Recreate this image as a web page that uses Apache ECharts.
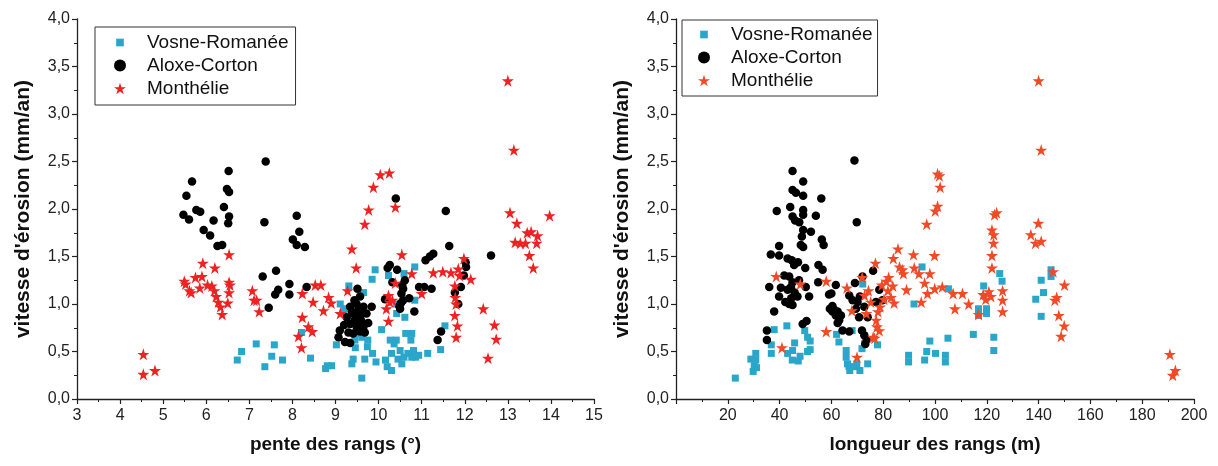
<!DOCTYPE html>
<html><head><meta charset="utf-8">
<script src="https://cdn.jsdelivr.net/npm/echarts@6/dist/echarts.min.js"></script>
<style>html,body{margin:0;padding:0;background:#fff}#c{width:1218px;height:466px}</style>
</head><body><div id="c"></div>
<script>
// ---------- data: left chart (slope, °) ----------
const seriesNames = ['Vosne-Romanée', 'Aloxe-Corton', 'Monthélie'];
const yTicks = ['0,0','0,5','1,0','1,5','2,0','2,5','3,0','3,5','4,0'];
const xLabelLeft = 'pente des rangs (°)';
const xLabelRight = 'longueur des rangs (m)';
const yLabel = "vitesse d'érosion (mm/an)";

const vosnePente = [[6.72,0.41],[6.82,0.50],[7.16,0.58],[7.36,0.34],[7.52,0.45],[7.58,0.57],[7.77,0.41],[8.21,0.70],[8.42,0.43],[8.77,0.32],[8.81,0.35],[8.91,0.35],[9.02,0.57],[9.11,1.00],[9.31,1.19],[9.38,0.37],[9.41,0.42],[9.46,0.54],[9.61,0.22],[9.68,0.42],[9.74,0.55],[9.61,0.65],[9.65,1.12],[9.85,1.26],[9.92,1.36],[9.86,0.48],[9.94,0.39],[10.07,0.73],[10.16,0.41],[10.20,0.34],[10.30,0.30],[10.27,0.62],[10.23,1.30],[10.30,0.48],[10.36,0.58],[10.41,0.62],[10.45,0.42],[10.50,0.51],[10.54,0.37],[10.59,0.44],[10.61,0.86],[10.63,0.69],[10.68,0.48],[10.75,0.62],[10.77,0.44],[10.81,0.51],[10.86,0.44],[10.93,0.46],[10.84,1.39],[10.59,1.32],[10.84,1.04],[10.41,1.00],[11.14,0.48],[11.44,0.52],[11.54,0.77],[10.42,0.90],[9.50,0.69],[9.19,0.92],[10.77,0.69],[9.20,0.95],[9.45,0.62],[9.75,0.62],[9.30,0.82]];
const aloxePente = [[5.47,1.94],[5.54,2.14],[5.60,1.89],[5.67,2.29],[5.77,1.99],[5.86,1.97],[5.94,1.78],[6.09,1.72],[6.17,1.88],[6.26,1.61],[6.37,1.62],[6.41,2.02],[6.48,2.21],[6.52,2.40],[6.53,2.18],[6.53,1.92],[6.51,1.85],[7.38,2.50],[7.35,1.86],[7.31,1.29],[7.62,1.35],[7.67,1.15],[7.60,1.10],[7.45,0.96],[7.93,1.21],[7.93,1.10],[8.10,1.93],[8.16,1.76],[8.01,1.68],[8.10,1.62],[8.29,1.60],[8.33,1.18],[9.51,1.16],[9.57,1.08],[9.49,1.00],[9.34,0.97],[9.65,0.97],[9.84,0.97],[9.41,0.90],[9.57,0.86],[9.26,0.86],[9.72,0.90],[9.34,0.79],[9.49,0.76],[9.76,0.80],[9.10,0.72],[9.07,0.65],[9.22,0.60],[9.34,0.59],[9.65,0.76],[9.41,0.69],[9.57,0.71],[9.53,0.93],[9.45,0.83],[9.38,0.92],[9.60,0.82],[9.30,0.70],[9.50,0.88],[9.44,1.04],[9.62,0.92],[9.20,0.78],[9.68,0.70],[10.40,2.11],[11.56,1.98],[11.64,1.61],[12.61,1.51],[11.27,1.53],[11.19,1.50],[11.09,1.46],[10.26,1.41],[10.21,1.38],[10.43,1.36],[12.02,1.44],[12.03,1.39],[11.98,1.30],[11.91,1.18],[11.77,1.12],[11.85,1.00],[11.45,0.71],[11.37,0.62],[10.83,0.92],[10.94,1.18],[11.06,1.18],[11.23,1.16],[10.71,1.06],[10.61,1.25],[10.57,1.16],[10.53,1.11],[10.52,1.01],[10.50,0.95],[10.57,1.04],[10.32,1.23],[10.15,1.05],[10.55,1.20],[10.48,0.98]];
const monthPente = [[4.54,0.47],[4.54,0.26],[4.81,0.30],[5.49,1.24],[5.52,1.21],[5.61,1.14],[5.65,1.12],[5.75,1.28],[5.85,1.17],[5.90,1.29],[5.92,1.43],[6.03,1.20],[6.20,1.38],[6.13,1.19],[6.19,1.14],[6.23,1.08],[6.28,1.02],[6.33,0.97],[6.37,0.89],[6.50,1.01],[6.53,1.12],[6.55,1.20],[6.53,1.23],[6.53,1.52],[7.07,1.14],[7.11,1.04],[7.17,1.04],[7.23,0.92],[8.23,1.11],[8.23,0.86],[8.14,0.66],[8.21,0.54],[8.37,0.76],[8.46,0.71],[8.48,1.02],[8.53,1.20],[8.66,1.20],[8.72,0.93],[8.84,1.07],[8.90,1.01],[9.11,0.90],[9.28,1.14],[9.38,1.58],[9.48,1.38],[9.68,1.84],[9.77,1.99],[9.88,2.23],[10.04,2.36],[10.25,2.38],[10.39,2.02],[10.39,1.22],[10.54,1.52],[10.23,1.09],[10.26,1.02],[10.18,0.95],[10.23,0.82],[10.32,1.04],[10.77,1.32],[11.00,1.11],[11.27,1.33],[11.49,1.34],[11.68,1.33],[11.77,1.19],[11.78,1.07],[11.80,1.00],[11.77,0.88],[11.83,0.77],[11.80,0.65],[11.85,1.37],[11.88,1.30],[11.98,1.48],[12.14,1.26],[12.43,0.95],[12.54,0.43],[12.69,0.78],[12.73,0.63],[13.00,3.35],[13.14,2.62],[13.05,1.96],[13.21,1.85],[13.17,1.65],[13.29,1.64],[13.41,1.64],[13.45,1.75],[13.54,1.76],[13.50,1.51],[13.59,1.38],[13.67,1.64],[13.69,1.72],[13.97,1.93]];

// ---------- data: right chart (row length, m) ----------
const vosneLongueur = [[22.9,0.22],[28.9,0.42],[29.8,0.29],[30.2,0.35],[30.8,0.48],[30.8,0.41],[31.1,0.33],[36.8,0.57],[36.8,0.48],[37.9,0.73],[42.8,0.77],[43.1,0.48],[44.9,0.41],[45.0,0.51],[45.8,0.59],[47.2,0.40],[47.9,0.45],[50.8,0.65],[49.7,0.72],[50.8,0.50],[51.8,0.61],[51.8,0.52],[62.0,0.68],[62.9,0.60],[65.7,0.51],[65.7,0.44],[66.2,0.37],[66.8,0.34],[67.1,0.30],[68.0,0.72],[68.6,0.34],[69.8,0.37],[71.0,0.30],[71.8,0.53],[72.1,1.21],[72.8,0.58],[74.0,0.37],[77.8,0.57],[89.8,0.46],[89.8,0.39],[91.9,1.00],[95.0,1.39],[96.0,0.41],[96.8,0.50],[98.0,0.61],[100.2,0.48],[104.0,0.46],[104.0,0.39],[105.0,0.64],[105.2,1.16],[114.8,0.68],[116.8,0.95],[116.8,0.88],[118.8,1.19],[119.9,0.95],[119.9,0.90],[122.7,0.65],[122.7,0.51],[125.0,1.32],[125.9,1.24],[144.8,1.36],[144.8,1.29],[141.0,1.25],[141.9,1.12],[138.9,1.05],[141.0,0.87]];
const aloxeLongueur = [[45.0,2.40],[49.1,2.29],[45.0,2.20],[46.3,2.17],[49.1,2.14],[56.1,2.11],[38.9,1.98],[44.1,2.02],[49.1,1.99],[49.1,1.94],[45.0,1.92],[46.0,1.88],[47.6,1.86],[54.0,1.93],[49.1,1.78],[52.1,1.76],[48.6,1.71],[56.3,1.68],[48.2,1.62],[57.0,1.62],[39.8,1.61],[49.1,1.60],[36.6,1.52],[39.8,1.51],[43.1,1.48],[44.7,1.46],[47.1,1.44],[45.6,1.41],[49.9,1.38],[55.0,1.41],[56.6,1.36],[41.8,1.30],[43.7,1.29],[45.0,1.23],[54.9,1.23],[36.0,1.18],[40.5,1.17],[43.1,1.15],[44.4,1.18],[50.1,1.18],[51.4,1.08],[39.8,1.08],[42.2,1.02],[43.7,1.00],[45.0,0.99],[46.9,1.08],[61.7,1.20],[59.1,1.10],[37.9,0.92],[50.4,0.82],[48.9,0.79],[35.1,0.72],[35.1,0.62],[60.4,0.98],[61.1,0.94],[62.4,0.92],[63.7,0.88],[61.7,0.88],[63.0,0.83],[64.3,0.72],[45.8,1.12],[47.5,1.25],[44.5,1.06],[68.9,2.51],[69.8,1.86],[76.1,1.35],[69.1,1.22],[72.0,1.29],[66.9,1.09],[68.2,1.04],[70.1,1.02],[72.7,0.97],[70.7,0.86],[74.0,0.86],[66.9,0.71],[71.8,0.72],[72.7,0.67],[73.6,0.62],[73.1,0.58],[79.7,1.04],[78.5,1.15],[77.2,1.02],[59.4,0.95],[60.4,0.92],[62.4,0.80],[60.0,1.11],[69.5,0.95],[71.0,1.08]];
const monthLongueur = [[38.7,1.29],[40.9,0.54],[48.0,1.21],[58.0,1.24],[58.0,0.71],[66.0,1.17],[67.9,0.93],[69.9,0.44],[71.9,1.28],[72.8,1.09],[73.5,0.90],[74.3,1.14],[75.2,1.02],[76.1,0.65],[76.7,0.64],[77.0,1.43],[77.3,0.83],[77.6,0.76],[78.0,0.92],[78.5,0.72],[78.8,0.97],[79.5,1.20],[80.3,1.05],[81.2,1.24],[81.8,1.14],[82.1,1.28],[83.0,1.07],[83.7,1.19],[83.9,1.48],[84.2,1.01],[85.7,1.58],[86.3,1.39],[87.4,1.36],[87.8,1.32],[89.0,1.15],[91.7,1.52],[92.0,1.38],[93.8,1.32],[94.7,1.02],[96.0,1.22],[96.8,1.84],[97.1,1.11],[98.0,1.32],[99.8,1.51],[99.9,1.16],[100.1,1.98],[101.0,2.03],[101.0,2.37],[101.7,2.35],[102.0,2.23],[102.8,1.18],[107.0,1.11],[107.7,0.95],[110.6,1.11],[113.0,1.00],[116.8,0.89],[118.6,1.10],[119.6,1.05],[120.8,1.13],[121.6,1.08],[122.0,1.38],[122.0,1.51],[122.0,1.78],[122.6,1.64],[122.7,1.73],[123.0,1.94],[123.8,1.96],[126.1,1.14],[126.1,1.04],[126.1,0.92],[137.0,1.73],[138.8,1.64],[139.9,1.85],[140.0,3.35],[141.0,2.62],[141.0,1.66],[145.6,1.34],[146.3,1.04],[147.0,1.07],[147.8,0.88],[148.7,0.66],[150.0,1.20],[149.9,0.77],[190.7,0.47],[191.8,0.25],[192.8,0.30]];

// ---------- styling ----------
const FONT = "'Liberation Sans', Arial, sans-serif";
const STAR = 'path://M50,0 L61.2,34.5 L97.6,34.5 L68.2,55.9 L79.4,90.5 L50,69.1 L20.6,90.5 L31.8,55.9 L2.4,34.5 L38.8,34.5 Z';
const RECT_ICON = 'path://M0,0 M100,100 M18,18 L82,18 L82,82 L18,82 Z';
const C_VOSNE = '#2AA6CA', C_ALOXE = '#000000', C_MONTH_L = '#EE2222', C_MONTH_R = '#F04A28';

function xAxisCfg(gi, min, max, interval, name, hideZero) {
  return {
    gridIndex: gi, type: 'value', min, max, interval,
    name, nameLocation: 'middle', nameGap: 36,
    nameTextStyle: { fontFamily: FONT, fontSize: 19, fontWeight: 'bold', color: '#111' },
    axisLine: { onZero: false, lineStyle: { color: '#222', width: 1.3 } },
    axisTick: { show: true, length: 5, lineStyle: { color: '#222', width: 1.2 } },
    minorTick: { show: true, splitNumber: 2, length: 3, lineStyle: { color: '#222', width: 1 } },
    splitLine: { show: false },
    axisLabel: { fontFamily: FONT, fontSize: 16, color: '#222', margin: 9,
      formatter: v => (hideZero && v === 0) ? '' : String(v) }
  };
}
function yAxisCfg(gi) {
  return {
    gridIndex: gi, type: 'value', min: 0, max: 4, interval: 0.5,
    name: yLabel, nameLocation: 'middle', nameGap: 43,
    nameTextStyle: { fontFamily: FONT, fontSize: 21, fontWeight: 'bold', color: '#111' },
    axisLine: { show: true, onZero: false, lineStyle: { color: '#222', width: 1.3 } },
    axisTick: { show: true, length: 5, lineStyle: { color: '#222', width: 1.2 } },
    minorTick: { show: true, splitNumber: 2, length: 3, lineStyle: { color: '#222', width: 1 } },
    splitLine: { show: false },
    axisLabel: { fontFamily: FONT, fontSize: 16, color: '#222', margin: 7,
      formatter: v => yTicks[Math.round(v / 0.5)] }
  };
}
function scatter(name, data, gi, symbol, size, color) {
  return { name, type: 'scatter', xAxisIndex: gi, yAxisIndex: gi, data, symbol, symbolSize: size,
    itemStyle: { color, opacity: 1 }, emphasis: { disabled: true }, animation: false };
}
function legendCfg(gi, left, top, pad, gap, textPad, starColor) {
  return {
    orient: 'vertical', left, top, padding: pad, itemGap: gap,
    itemWidth: 12, itemHeight: 12, selectedMode: false,
    borderColor: '#333', borderWidth: 1, backgroundColor: '#fff',
    textStyle: { fontFamily: FONT, fontSize: 19, color: '#111', padding: [0, 0, 0, textPad] },
    data: [
      { name: seriesNames[0], icon: RECT_ICON, itemStyle: { color: C_VOSNE } },
      { name: seriesNames[1], icon: 'circle', itemStyle: { color: C_ALOXE } },
      { name: seriesNames[2], icon: STAR, itemStyle: { color: starColor } }
    ]
  };
}

const chart = echarts.init(document.getElementById('c'), null, { renderer: 'canvas' });
chart.setOption({
  animation: false,
  backgroundColor: '#fff',
  grid: [
    { left: 77, top: 19, width: 517, height: 380 },
    { left: 676, top: 19, width: 518, height: 380 }
  ],
  xAxis: [ xAxisCfg(0, 3, 15, 1, xLabelLeft, false), xAxisCfg(1, 0, 200, 20, xLabelRight, true) ],
  yAxis: [ yAxisCfg(0), yAxisCfg(1) ],
  legend: [
    legendCfg(0, 95, 27, [6, 7, 7, 19], 4, 16, C_MONTH_L),
    legendCfg(1, 682, 20, [5, 5, 6, 16], 4, 16, C_MONTH_R)
  ],
  series: [
    scatter(seriesNames[0], vosnePente, 0, 'rect', 7, C_VOSNE),
    scatter(seriesNames[1], aloxePente, 0, 'circle', 8.5, C_ALOXE),
    scatter(seriesNames[2], monthPente, 0, STAR, 12, C_MONTH_L),
    scatter(seriesNames[0], vosneLongueur, 1, 'rect', 7, C_VOSNE),
    scatter(seriesNames[1], aloxeLongueur, 1, 'circle', 8.5, C_ALOXE),
    scatter(seriesNames[2], monthLongueur, 1, STAR, 12, C_MONTH_R)
  ]
});
</script></body></html>
